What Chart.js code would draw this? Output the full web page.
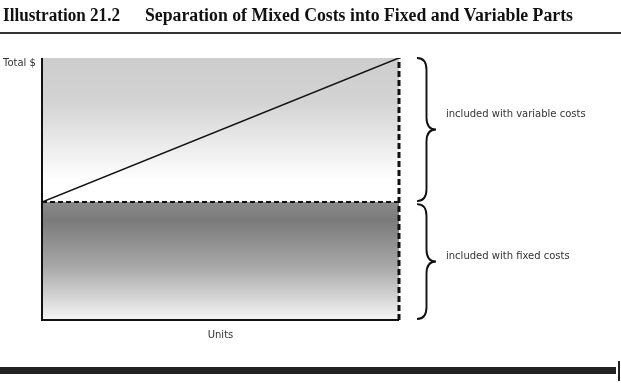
<!DOCTYPE html>
<html>
<head>
<meta charset="utf-8">
<script src="https://cdn.jsdelivr.net/npm/chart.js@4.4.0/dist/chart.umd.min.js"></script>
<style>
  html, body { margin: 0; padding: 0; background: #fff; }
  #wrap { width: 621px; height: 383px; position: relative; }
</style>
</head>
<body>
<div id="wrap"><canvas id="costChart" width="621" height="383"></canvas></div>
<script>
// Datos del grafico (unidades vs costo total)
const units = [0, 100];
const fixedCost = [45, 45];
const totalCost = [45, 100];
const topCost = [100, 100];
const rightEdge = [0, 100];

const titleNumber = 'Illustration 21.2';
const titleText = 'Separation of Mixed Costs into Fixed and Variable Parts';
const yLabel = 'Total $';
const xLabel = 'Units';
const braceLabels = ['included with variable costs', 'included with fixed costs'];

function pts(xs, ys) {
  return xs.map((x, i) => ({ x: x, y: ys[i] }));
}

function gradiente(ctx, stops) {
  const area = ctx.chart.chartArea;
  if (!area) return stops[0][1];
  const yScale = ctx.chart.scales.y;
  const y0 = yScale.getPixelForValue(stops.y0);
  const y1 = yScale.getPixelForValue(stops.y1);
  const g = ctx.chart.ctx.createLinearGradient(0, y0, 0, y1);
  stops.forEach(s => g.addColorStop(s[0], s[1]));
  return g;
}

const upperStops = [[0, '#cdcdcd'], [0.3, '#d3d3d3'], [0.85, '#ffffff'], [1, '#ffffff']];
upperStops.y0 = 100; upperStops.y1 = 45;
const lowerStops = [[0, '#8a8a8a'], [0.15, '#7a7a7a'], [0.55, '#a8a8a8'], [1, '#f6f6f6']];
lowerStops.y0 = 45; lowerStops.y1 = 0;

function llave(c, x, y1, y2, w) {
  const mid = (y1 + y2) / 2;
  const r = 12;
  const xm = x + w / 2;
  c.beginPath();
  c.moveTo(x, y1);
  c.quadraticCurveTo(xm, y1, xm, y1 + r);
  c.lineTo(xm, mid - r);
  c.quadraticCurveTo(xm, mid, x + w, mid);
  c.quadraticCurveTo(xm, mid, xm, mid + r);
  c.lineTo(xm, y2 - r);
  c.quadraticCurveTo(xm, y2, x, y2);
  c.stroke();
}

// texto ajustado a un ancho fijo
function textoAncho(c, txt, x, y, ancho) {
  const w = c.measureText(txt).width;
  c.save();
  c.translate(x, y);
  c.scale(ancho / w, 1);
  c.fillText(txt, 0, 0);
  c.restore();
}

const decoracion = {
  id: 'decoracion',
  afterDraw(chart) {
    const c = chart.ctx;
    const xs = chart.scales.x;
    const ys = chart.scales.y;
    c.save();
    // titulo
    c.fillStyle = '#111';
    c.font = 'bold 18px "Liberation Serif"';
    c.textBaseline = 'alphabetic';
    textoAncho(c, titleNumber, 3, 21, 117);
    textoAncho(c, titleText, 145, 21, 428);
    c.fillStyle = '#333';
    c.fillRect(0, 32, 621, 2);
    // barra inferior
    c.fillStyle = '#222';
    c.fillRect(0, 367, 616, 7);
    c.fillRect(618, 361, 2, 20);

    // ejes izquierdo e inferior
    const x0 = xs.getPixelForValue(0);
    const x1 = xs.getPixelForValue(100);
    const y0 = ys.getPixelForValue(0);
    const y1 = ys.getPixelForValue(100);
    c.strokeStyle = '#111';
    c.lineWidth = 2;
    c.beginPath();
    c.moveTo(x0, y1);
    c.lineTo(x0, y0);
    c.lineTo(x1, y0);
    c.stroke();

    // etiquetas de ejes
    c.fillStyle = '#333';
    c.font = '10px "DejaVu Sans"';
    c.textBaseline = 'middle';
    c.fillText(yLabel, 3, 63);
    c.textAlign = 'center';
    c.fillText(xLabel, (xs.left + xs.right) / 2, 335);

    // llaves
    const bx = x1 + 18;
    c.lineWidth = 1.9;
    llave(c, bx, y1, ys.getPixelForValue(45) - 1, 19);
    llave(c, bx, ys.getPixelForValue(45) + 2, y0 - 1, 19);

    c.textAlign = 'left';
    c.fillText(braceLabels[0], bx + 29, (y1 + ys.getPixelForValue(45)) / 2 - 16);
    c.fillText(braceLabels[1], bx + 29, (ys.getPixelForValue(45) + y0) / 2 - 5);
    c.restore();
  }
};

new Chart(document.getElementById('costChart'), {
  type: 'line',
  data: {
    datasets: [
      {
        label: 'Fixed',
        data: pts(units, fixedCost),
        borderColor: '#111',
        borderWidth: 2,
        borderDash: [5, 3],
        pointRadius: 0,
        fill: 'origin',
        backgroundColor: ctx => gradiente(ctx, lowerStops),
        order: 2
      },
      {
        label: 'Top',
        data: pts(units, topCost),
        borderWidth: 0,
        borderColor: 'rgba(0,0,0,0)',
        pointRadius: 0,
        fill: 0,
        backgroundColor: ctx => gradiente(ctx, upperStops),
        order: 3
      },
      {
        label: 'Total',
        data: pts(units, totalCost),
        borderColor: '#111',
        borderWidth: 1.6,
        pointRadius: 0,
        fill: false,
        order: 1
      },
      {
        label: 'Edge',
        data: pts([100, 100], rightEdge),
        borderColor: '#111',
        borderWidth: 3,
        borderDash: [6, 3],
        pointRadius: 0,
        fill: false,
        clip: false,
        order: 0
      }
    ]
  },
  options: {
    responsive: false,
    animation: false,
    layout: { padding: { left: 42, top: 58, right: 222, bottom: 63 } },
    plugins: { legend: { display: false }, tooltip: { enabled: false }, title: { display: false } },
    scales: {
      x: {
        type: 'linear', min: 0, max: 100,
        grid: { display: false, drawTicks: false },
        ticks: { display: false },
        border: { display: false }
      },
      y: {
        min: 0, max: 100,
        grid: { display: false, drawTicks: false },
        ticks: { display: false },
        border: { display: false }
      }
    }
  },
  plugins: [decoracion]
});
</script>
</body>
</html>
